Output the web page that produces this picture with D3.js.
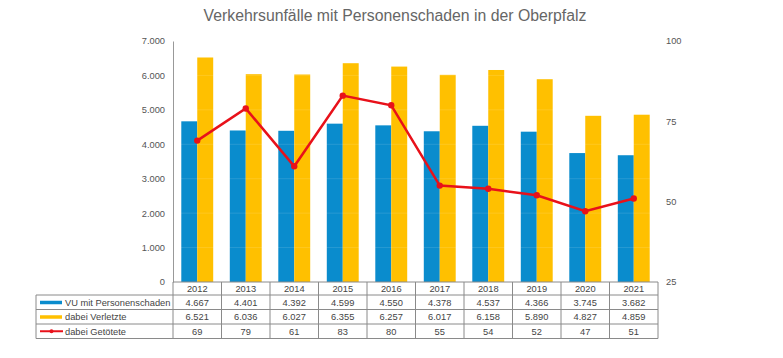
<!DOCTYPE html>
<html>
<head>
<meta charset="utf-8">
<script src="https://cdn.jsdelivr.net/npm/d3@7"></script>
<style>
	body { margin: 0; background: #fff; }
	text { font-family: Arial, "Liberation Sans", sans-serif; }
</style>
</head>
<body>
<svg id="chart" width="783" height="358"></svg>
<script>
const years = ["2012", "2013", "2014", "2015", "2016", "2017", "2018", "2019", "2020", "2021"];
const unfaelle = [4667, 4401, 4392, 4599, 4550, 4378, 4537, 4366, 3745, 3682];
const verletzte = [6521, 6036, 6027, 6355, 6257, 6017, 6158, 5890, 4827, 4859];
const getoetete = [69, 79, 61, 83, 80, 55, 54, 52, 47, 51];
const leftTicks = [0, 1000, 2000, 3000, 4000, 5000, 6000, 7000];
const rightTicks = [25, 50, 75, 100];
const seriesNames = ["VU mit Personenschaden", "dabei Verletzte", "dabei Getötete"];

const blue = "#0a8ccd";
const yellow = "#ffc000";
const red = "#e8111a";
const fmt = d3.formatLocale({ decimal: ",", thousands: ".", grouping: [3] }).format(",");
const fs = 9.3;

const svg = d3.select("#chart");
const plotLeft = 173, plotRight = 658, plotTop = 41, plotBottom = 282;

const x = d3.scaleBand().domain(years).range([plotLeft, plotRight]);
const y = d3.scaleLinear().domain([0, 7000]).range([plotBottom, plotTop]);
const y2 = d3.scaleLinear().domain([25, 100]).range([plotBottom, plotTop]);
const inner = d3.scaleBand().domain([0, 1]).range([0, x.bandwidth()]).paddingOuter(0.52).paddingInner(0);

// title
svg.append("text")
	.attr("x", 395).attr("y", 21)
	.attr("text-anchor", "middle")
	.attr("font-size", 15.8)
	.attr("fill", "#666")
	.text("Verkehrsunfälle mit Personenschaden in der Oberpfalz");

// bars
const g = svg.append("g");
g.selectAll(".b1").data(unfaelle).enter().append("rect")
	.attr("x", (d, i) => x(years[i]) + inner(0))
	.attr("y", d => y(d))
	.attr("width", inner.bandwidth())
	.attr("height", d => plotBottom - y(d))
	.attr("fill", blue);
g.selectAll(".b2").data(verletzte).enter().append("rect")
	.attr("x", (d, i) => x(years[i]) + inner(1))
	.attr("y", d => y(d))
	.attr("width", inner.bandwidth())
	.attr("height", d => plotBottom - y(d))
	.attr("fill", yellow);

// faint gridlines over the bars
g.selectAll(".grid").data(leftTicks.slice(1)).enter().append("line")
	.attr("x1", plotLeft).attr("x2", plotRight)
	.attr("y1", d => y(d)).attr("y2", d => y(d))
	.attr("stroke", "#fff").attr("stroke-opacity", 0.12);

// left axis
const yAxis = d3.axisLeft(y).tickValues(leftTicks).tickSize(0).tickPadding(8).tickFormat(fmt);
svg.append("g").attr("transform", `translate(${plotLeft},0)`).call(yAxis)
	.call(a => a.select(".domain").attr("stroke", "#999"))
	.call(a => a.selectAll("text").attr("font-size", fs).attr("fill", "#555").attr("font-family", "Arial, 'Liberation Sans', sans-serif"));

// right axis
const y2Axis = d3.axisRight(y2).tickValues(rightTicks).tickSize(0).tickPadding(8);
svg.append("g").attr("transform", `translate(${plotRight},0)`).call(y2Axis)
	.call(a => a.select(".domain").remove())
	.call(a => a.selectAll("text").attr("font-size", fs).attr("fill", "#555").attr("font-family", "Arial, 'Liberation Sans', sans-serif"));

// line
const cx = i => x(years[i]) + x.bandwidth() / 2;
const line = d3.line().x((d, i) => cx(i)).y(d => y2(d));
svg.append("path").datum(getoetete)
	.attr("d", line).attr("fill", "none")
	.attr("stroke", red).attr("stroke-width", 2.5);
svg.selectAll(".dot").data(getoetete).enter().append("circle")
	.attr("cx", (d, i) => cx(i)).attr("cy", d => y2(d))
	.attr("r", 3.2).attr("fill", red);

// data table
const rowH = [plotBottom, 295, 309.5, 324, 338.5];
const tableLeft = 36;
const t = svg.append("g");
const border = "#8a8a8a";
const values = [unfaelle.map(fmt), verletzte.map(fmt), getoetete.map(String)];

// horizontal lines
t.append("line").attr("x1", plotLeft).attr("x2", plotRight).attr("y1", plotBottom).attr("y2", plotBottom).attr("stroke", border);
rowH.slice(1).forEach(v => {
	t.append("line").attr("x1", tableLeft).attr("x2", plotRight).attr("y1", v).attr("y2", v).attr("stroke", border);
});
// vertical lines
years.concat(["end"]).forEach((yr, i) => {
	const xv = i < years.length ? x(yr) : plotRight;
	t.append("line").attr("x1", xv).attr("x2", xv).attr("y1", plotBottom).attr("y2", rowH[4]).attr("stroke", border);
});
t.append("line").attr("x1", tableLeft).attr("x2", tableLeft).attr("y1", rowH[1]).attr("y2", rowH[4]).attr("stroke", border);

// year row
t.selectAll(".yr").data(years).enter().append("text")
	.attr("x", d => x(d) + x.bandwidth() / 2).attr("y", (rowH[0] + rowH[1]) / 2 + 3.3)
	.attr("text-anchor", "middle").attr("font-size", fs).attr("fill", "#444")
	.text(d => d);

values.forEach((vals, r) => {
	const ym = (rowH[r + 1] + rowH[r + 2]) / 2 + 3.3;
	t.selectAll(".v" + r).data(vals).enter().append("text")
		.attr("x", (d, i) => cx(i)).attr("y", ym)
		.attr("text-anchor", "middle").attr("font-size", fs).attr("fill", "#444")
		.text(d => d);
	t.append("text").attr("x", 65).attr("y", ym)
		.attr("font-size", fs).attr("fill", "#444")
		.text(seriesNames[r]);
	const km = ym - 3.3;
	if (r === 0 || r === 1) {
		t.append("rect").attr("x", 40).attr("y", km - 1.5).attr("width", 22).attr("height", 3.5)
			.attr("fill", r === 0 ? blue : yellow);
	} else {
		t.append("line").attr("x1", 40).attr("x2", 63).attr("y1", km).attr("y2", km)
			.attr("stroke", red).attr("stroke-width", 2);
		t.append("circle").attr("cx", 51.5).attr("cy", km).attr("r", 2).attr("fill", red);
	}
});
</script>
</body>
</html>
